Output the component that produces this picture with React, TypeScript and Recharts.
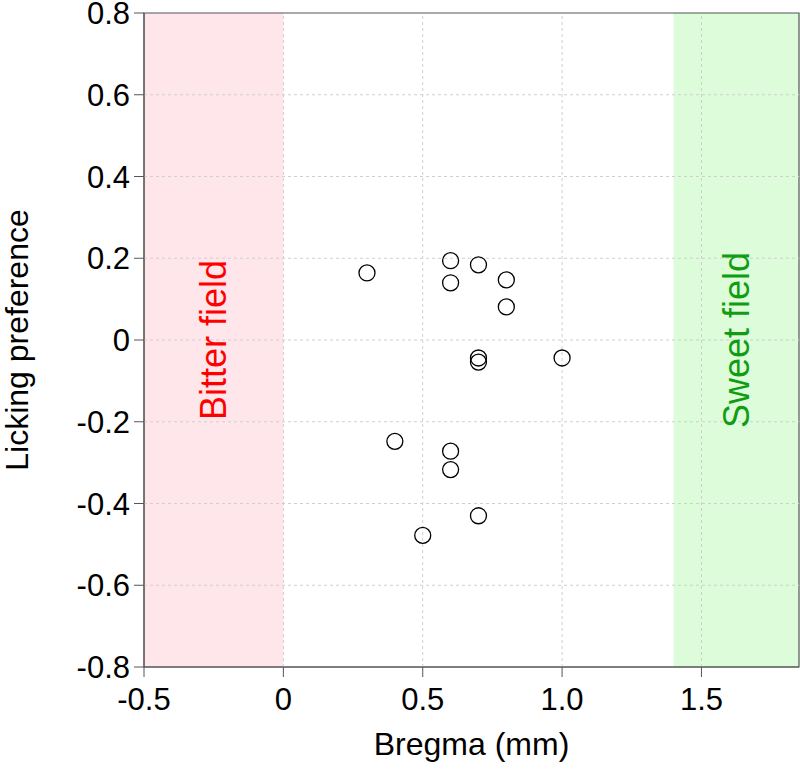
import React from 'react';
import { ScatterChart, Scatter, XAxis, YAxis, ReferenceArea, ReferenceLine, Label } from 'recharts';

// Bregma position (mm) and licking preference, one entry per recording site
const bregma = [0.3, 0.6, 0.6, 0.7, 0.8, 0.8, 0.7, 0.7, 1.0, 0.4, 0.6, 0.6, 0.7, 0.5];
const preference = [0.164, 0.194, 0.14, 0.184, 0.147, 0.081, -0.044, -0.054, -0.044, -0.248, -0.272, -0.317, -0.43, -0.478];

const xTicks = [-0.5, 0, 0.5, 1.0, 1.5];
const yTicks = [-0.8, -0.6, -0.4, -0.2, 0, 0.2, 0.4, 0.6, 0.8];
const xGrid = [0, 0.5, 1.0, 1.5];
const yGrid = [-0.6, -0.4, -0.2, 0, 0.2, 0.4, 0.6];

const X_MIN = -0.5;
const X_MAX = 1.85;
const Y_MIN = -0.8;
const Y_MAX = 0.8;

const bitterField = [-0.5, 0];
const sweetField = [1.4, 1.85];

const FONT = '"Liberation Sans", Arial, Helvetica, sans-serif';
const AXIS_COLOR = '#555';

const fmt = (v: number) => (v === 0 ? '0' : v.toFixed(1));

const data = bregma.map((b, i) => ({ x: b, y: preference[i] }));

const OpenCircle = (props: any) => {
    const { cx, cy } = props;
    if (cx == null || cy == null) return null;
    return <circle cx={cx} cy={cy} r={8} fill="none" stroke="#000" strokeWidth={1.3} />;
};

const App: React.FC = () => {
    return (
        <div style={{ width: 800, height: 772, fontFamily: FONT }}>
            <style>{`body { margin: 0; }`}</style>
            <ScatterChart width={800} height={772} margin={{ top: 13, right: 1, bottom: 0, left: 0 }}>
                <ReferenceArea x1={bitterField[0]} x2={bitterField[1]} y1={Y_MIN} y2={Y_MAX} fill="#ffe6ea" fillOpacity={1} stroke="none">
                    <Label value="Bitter field" position="center" angle={-90} fill="#ff0000" fontSize={36} fontFamily={FONT} />
                </ReferenceArea>
                <ReferenceArea x1={sweetField[0]} x2={sweetField[1]} y1={Y_MIN} y2={Y_MAX} fill="#dcfcda" fillOpacity={1} stroke="none">
                    <Label value="Sweet field" position="center" angle={-90} fill="#129c12" fontSize={36} fontFamily={FONT} />
                </ReferenceArea>

                {xGrid.map((v) => (
                    <ReferenceLine key={`gx-${v}`} x={v} stroke="#cfcfcf" strokeDasharray="3 3" />
                ))}
                {yGrid.map((v) => (
                    <ReferenceLine key={`gy-${v}`} y={v} stroke="#cfcfcf" strokeDasharray="3 3" />
                ))}

                <XAxis
                    type="number"
                    dataKey="x"
                    domain={[X_MIN, X_MAX]}
                    ticks={xTicks}
                    allowDataOverflow
                    interval={0}
                    height={105}
                    tickFormatter={fmt}
                    tickSize={10}
                    tickMargin={11}
                    stroke={AXIS_COLOR}
                    tick={{ fill: '#000', fontSize: 31, fontFamily: FONT }}
                >
                    <Label value="Bregma (mm)" position="insideBottom" offset={17} fill="#000" fontSize={32} fontFamily={FONT} />
                </XAxis>
                <YAxis
                    type="number"
                    dataKey="y"
                    domain={[Y_MIN, Y_MAX]}
                    ticks={yTicks}
                    allowDataOverflow
                    interval={0}
                    width={144}
                    tickFormatter={fmt}
                    tickSize={10}
                    tickMargin={4}
                    stroke={AXIS_COLOR}
                    tick={{ fill: '#000', fontSize: 31, fontFamily: FONT }}
                >
                    <Label
                        content={({ viewBox }: any) => {
                            const cy = viewBox.y + viewBox.height / 2;
                            return (
                                <text
                                    x={17}
                                    y={cy}
                                    transform={`rotate(-90, 17, ${cy})`}
                                    textAnchor="middle"
                                    dominantBaseline="central"
                                    fill="#000"
                                    fontSize={32}
                                    fontFamily={FONT}
                                >
                                    Licking preference
                                </text>
                            );
                        }}
                    />
                </YAxis>

                <Scatter data={data} shape={<OpenCircle />} isAnimationActive={false} />

                {/* plot box */}
                <ReferenceArea x1={X_MIN} x2={X_MAX} y1={Y_MIN} y2={Y_MAX} fill="none" stroke={AXIS_COLOR} strokeWidth={1.2} />
            </ScatterChart>
        </div>
    );
};

export default App;
